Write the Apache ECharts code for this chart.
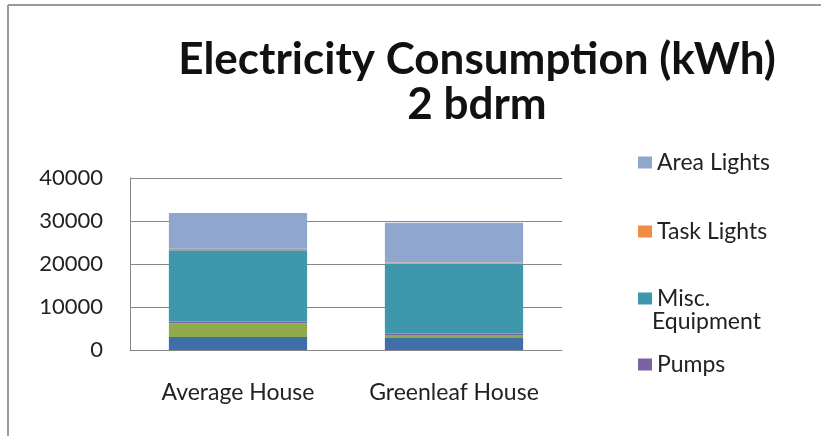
<!DOCTYPE html>
<html>
<head>
<meta charset="utf-8">
<script src="https://cdn.jsdelivr.net/npm/echarts@6/dist/echarts.min.js"></script>
<style>
html, body { margin: 0; padding: 0; background: #fff; }
#main { width: 821px; height: 436px; }
</style>
</head>
<body>
<div id="main"></div>
<script>
// categories and values (kWh)
var houses = ['Average House', 'Greenleaf House'];
var seriesNames = ['Heating', 'Cooling', 'Pumps', 'Misc. Equipment', 'Task Lights', 'Area Lights'];
var heating = [3000, 2800];
var cooling = [3200, 700];
var pumps = [400, 350];
var miscEquipment = [16600, 16200];
var taskLights = [350, 300];
var areaLights = [8300, 9250];
var yTicks = [0, 10000, 20000, 30000, 40000];
var legendShown = ['Area Lights', 'Task Lights', 'Misc. Equipment', 'Pumps'];

var colors = ['#3f6ea8', '#8eaa4a', '#7b62a0', '#3e97ad', '#ef8d46', '#8fa7cf'];
var values = [heating, cooling, pumps, miscEquipment, taskLights, areaLights];
var labelFont = 'Lato';

var series = [];
for (var i = 0; i < seriesNames.length; i++) {
    series.push({
        name: seriesNames[i],
        type: 'bar',
        stack: 'total',
        barCategoryGap: '36%',
        itemStyle: { color: colors[i] },
        data: values[i]
    });
}

// legend rows placed one by one, like the original
var legendTops = [144, 213, 280, 346];
var legends = [];
for (var i = 0; i < legendShown.length; i++) {
    legends.push({
        data: [legendShown[i]],
        left: 633,
        top: legendTops[i],
        itemWidth: 14,
        itemHeight: 12,
        icon: 'rect',
        selectedMode: false,
        formatter: function(name) {
            // second word of Misc. Equipment goes on its own line below
            return name == 'Misc. Equipment' ? 'Misc.' : name;
        },
        textStyle: {
            fontFamily: labelFont,
            fontSize: 23,
            color: '#222',
            lineHeight: 27
        }
    });
}

var chart = echarts.init(document.getElementById('main'));
chart.setOption({
    animation: false,
    backgroundColor: '#fff',
    title: {
        text: 'Electricity Consumption (kWh)\n2 bdrm',
        left: 472,
        top: 32,
        textAlign: 'center',
        textStyle: {
            fontFamily: labelFont,
            fontWeight: 'bold',
            fontSize: 44,
            lineHeight: 45,
            color: '#111'
        }
    },
    legend: legends,
    grid: { left: 130, right: 259, top: 178, bottom: 86 },
    xAxis: {
        type: 'category',
        data: houses,
        axisLine: { lineStyle: { color: '#868686' } },
        axisTick: { show: false },
        axisLabel: {
            interval: 0,
            fontFamily: labelFont,
            fontSize: 23,
            color: '#222',
            margin: 31
        }
    },
    yAxis: {
        type: 'value',
        min: yTicks[0],
        max: yTicks[yTicks.length - 1],
        interval: 10000,
        axisLine: { show: true, lineStyle: { color: '#868686' } },
        axisTick: { show: false },
        splitLine: { lineStyle: { color: '#868686' } },
        axisLabel: {
            fontFamily: labelFont,
            fontSize: 22,
            color: '#222',
            margin: 27,
            formatter: function(v) { return String(v); }
        }
    },
    graphic: [
        { type: 'line', shape: { x1: 8, y1: 5, x2: 821, y2: 5 }, style: { stroke: '#9a9a9a', lineWidth: 2 } },
        { type: 'line', shape: { x1: 8, y1: 5, x2: 8, y2: 436 }, style: { stroke: '#9a9a9a', lineWidth: 2 } },
        {
            type: 'text', left: 652, top: 310,
            style: { text: 'Equipment', font: '23px Lato', fill: '#222' }
        }
    ],
    series: series
});
</script>
</body>
</html>
